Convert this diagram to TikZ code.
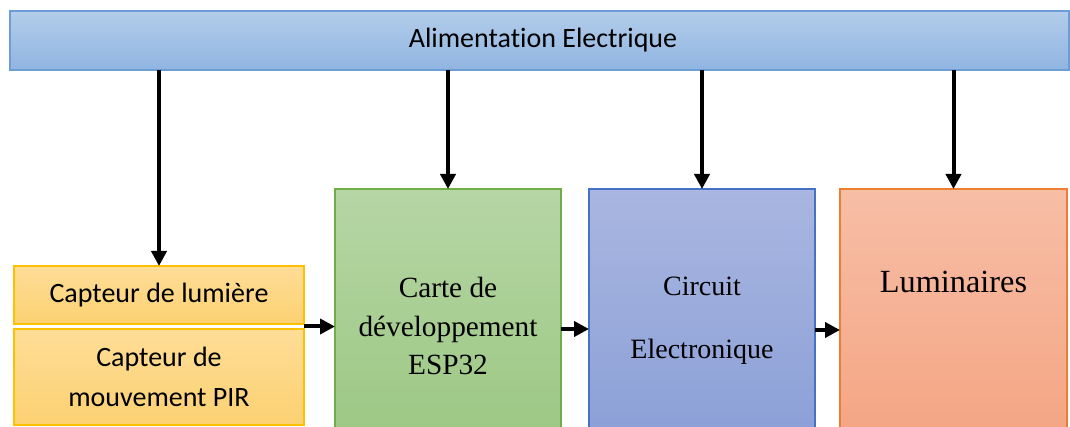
\documentclass[tikz,border=0pt]{standalone}
\usepackage{fontspec}
\setmainfont{Liberation Serif}
\newfontfamily\calibri[Ligatures=NoCommon]{Carlito}
\usetikzlibrary{arrows.meta,calc}
\definecolor{barTop}{HTML}{B3CDEA}
\definecolor{barBot}{HTML}{90B4E1}
\definecolor{barLine}{HTML}{6C9DD4}
\definecolor{capTop}{HTML}{FEDD97}
\definecolor{capBot}{HTML}{FCD172}
\definecolor{capLine}{HTML}{FFC000}
\definecolor{espTop}{HTML}{B6D6A5}
\definecolor{espBot}{HTML}{9BC782}
\definecolor{espLine}{HTML}{70AD47}
\definecolor{cirTop}{HTML}{A9B6E0}
\definecolor{cirBot}{HTML}{8A9FD7}
\definecolor{cirLine}{HTML}{4472C4}
\definecolor{lumTop}{HTML}{F7BEA6}
\definecolor{lumBot}{HTML}{F4A482}
\definecolor{lumLine}{HTML}{ED7D31}
\tikzset{
  block/.style={rectangle, inner sep=0pt, outer sep=0pt, line width=1.2pt},
  sanslabel/.style={font=\calibri\fontsize{28}{40}\selectfont, align=center, inner sep=0pt},
  seriflabel/.style={font=\fontsize{29.3}{38.5}\selectfont, align=center, inner sep=0pt},
  arr/.style={line width=4pt, -{Triangle[length=15pt,width=15pt]}},
}
\begin{document}
\begin{tikzpicture}[x=1pt,y=-1pt]
\clip (0,0) rectangle (1070,427);
\path[use as bounding box] (0,0) rectangle (1070,427);
\fill[white] (0,0) rectangle (1070,427);

% power supply bar
\node[block, draw=barLine, top color=barTop, bottom color=barBot,
      minimum width=1059pt, minimum height=59pt, anchor=north west] (alim) at (10,11) {};
\node[font=\calibri\fontsize{28}{34}\selectfont, inner sep=0pt] (alimtxt) at (543,40) {Alimentat\kern0pt ion Electrique};

% sensors
\node[block, draw=capLine, top color=capTop, bottom color=capBot,
      minimum width=290pt, minimum height=58pt, anchor=north west] (lum) at (14,266) {};
\node[sanslabel] (lumtxt) at (159,295) {Capteur de lumière};
\node[block, draw=capLine, top color=capTop, bottom color=capBot,
      minimum width=290pt, minimum height=96pt, anchor=north west] (pir) at (14,329) {};
\node[sanslabel] (pirtxt) at (159,377) {Capteur de\\mouvement PIR};

% ESP32 board
\node[block, draw=espLine, top color=espTop, bottom color=espBot,
      minimum width=226pt, minimum height=260pt, anchor=north west] (esp) at (335,189) {};
\node[seriflabel] (esptxt) at (448,326) {Carte de\\développement\\ESP32};

% electronic circuit
\node[block, draw=cirLine, top color=cirTop, bottom color=cirBot,
      minimum width=226pt, minimum height=260pt, anchor=north west] (cir) at (589,189) {};
\node[font=\fontsize{28}{34}\selectfont, inner sep=0pt] (cirtxt1) at (702,286) {Circuit};
\node[font=\fontsize{28}{34}\selectfont, inner sep=0pt] (cirtxt2) at (702,352) {Electronique};

% lights
\node[block, draw=lumLine, top color=lumTop, bottom color=lumBot,
      minimum width=227pt, minimum height=260pt, anchor=north west] (lumi) at (840,189) {};
\node[font=\fontsize{32.3}{38}\selectfont, inner sep=0pt] (lumitxt) at (953.5,282) {Luminaires};

% power feeds
\draw[arr] (alim.south -| lum.north) -- (lum.north);
\draw[arr] (alim.south -| esp.north) -- (esp.north);
\draw[arr] (alim.south -| cir.north) -- (cir.north);
\draw[arr] (alim.south -| lumi.north) -- (lumi.north);

% signal chain
\coordinate (capout) at ($(lum.south east)!0.5!(pir.north east)$);
\draw[arr] (capout) -- (capout -| esp.west);
\coordinate (espout) at (561,329);
\draw[arr] (espout) -- (espout -| cir.west);
\coordinate (cirout) at (815,330);
\draw[arr] (cirout) -- (cirout -| lumi.west);
\end{tikzpicture}
\end{document}
